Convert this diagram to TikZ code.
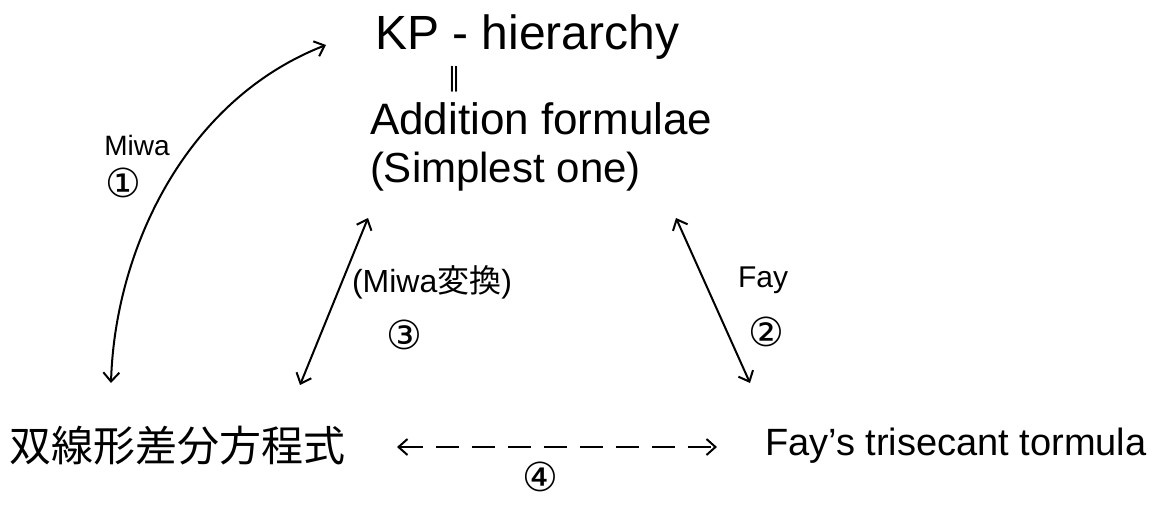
\documentclass[tikz,border=0pt]{standalone}
\usepackage{fontspec}
\setmainfont{Liberation Sans}
\newfontfamily\jpfont{Noto Sans CJK JP}
\newfontfamily\symfont{DejaVu Sans}
\usetikzlibrary{arrows.meta}
\begin{document}
\begin{tikzpicture}[x=0.5pt,y=-0.5pt,line width=1pt,
  lbl/.style={inner sep=0pt,outer sep=0pt},
  circnum/.style={lbl,font=\symfont\fontsize{20}{22}\selectfont},
  link/.style={{Straight Barb[length=4.5pt,width=8pt]}-{Straight Barb[length=4.5pt,width=8pt]}},
  dashlink/.style={link,dash pattern=on 11.5pt off 6.5pt}]
\fill[white] (0,0) rectangle (1152,504);
\useasboundingbox (0,0) rectangle (1152,504);
% texts
\node[lbl,anchor=base west,font=\fontsize{24}{28}\selectfont] (kp) at (375,49) {KP - hierarchy};
\node[lbl,font=\symfont\fontsize{13}{14}\selectfont] (eq) at (454,79) {∥};
\node[lbl,anchor=base west,font=\fontsize{22}{26}\selectfont] (add) at (370,134) {Addition formulae};
\node[lbl,anchor=base west,font=\fontsize{21}{25}\selectfont] (simp) at (370,182) {(Simplest one)};
\node[lbl,font=\fontsize{14}{16}\selectfont] (miwa) at (137,145) {Miwa};
\node[circnum] (c1) at (123,183) {①};
\node[lbl,font=\fontsize{16}{18}\selectfont] (mt) at (432,282) {(Miwa{\jpfont 変換})};
\node[circnum] (c3) at (404,335) {③};
\node[lbl,font=\fontsize{15}{17}\selectfont] (fayl) at (763,280) {Fay};
\node[circnum] (c2) at (766,332) {②};
\node[lbl,font=\jpfont\fontsize{21}{24}\selectfont] (jp) at (178,446) {双線形差分方程式};
\node[lbl,anchor=west,font=\fontsize{19}{22}\selectfont] (fay) at (765,446) {Fay's trisecant tormula};
\node[circnum] (c4) at (540,477) {④};
% connector ends
\coordinate (kpA) at (326,45);
\coordinate (jpA) at (111,383);
\coordinate (addB) at (368,218);
\coordinate (jpB) at (300,385);
\coordinate (addC) at (676,218);
\coordinate (fayC) at (750,383);
\coordinate (jpD) at (397,447);
\coordinate (fayD) at (717,447);
% connectors
\draw[link] (jpA) .. controls (115,250) and (185,100) .. (kpA);
\draw[link] (jpB) -- (addB);
\draw[link] (fayC) -- (addC);
\draw[dashlink] (jpD) -- (fayD);
\end{tikzpicture}
\end{document}
